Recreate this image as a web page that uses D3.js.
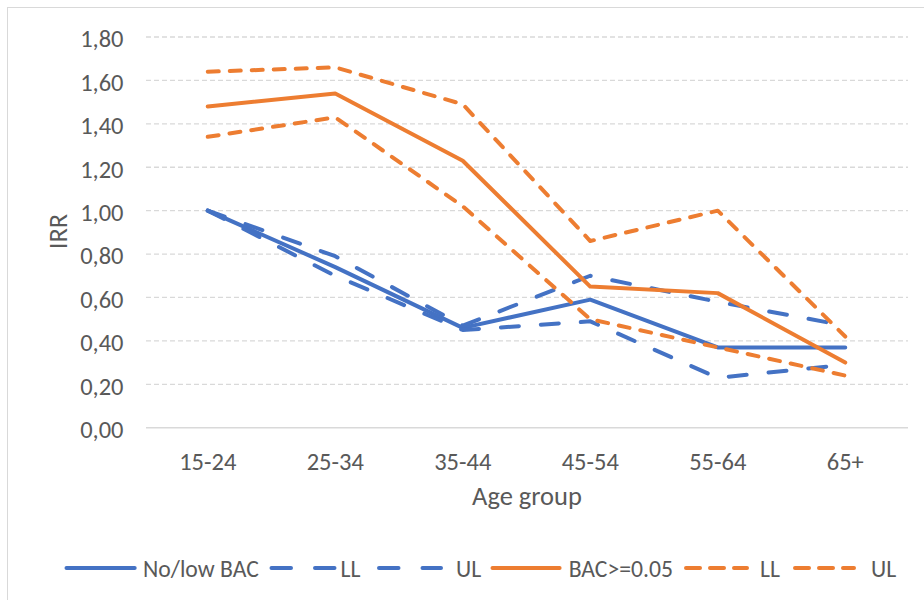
<!DOCTYPE html>
<html>
<head>
<meta charset="utf-8">
<script src="https://cdn.jsdelivr.net/npm/d3@7"></script>
<style>
  html, body { margin: 0; padding: 0; background: #fff; }
  svg { display: block; }
  text { font-family: Carlito, Calibri, "Liberation Sans Narrow", "Open Sans", sans-serif; fill: #595959; }
</style>
</head>
<body>
<svg id="chart" width="924" height="600"></svg>
<script>
// ---- data ----
const categories = ["15-24", "25-34", "35-44", "45-54", "55-64", "65+"];
const noLowBAC   = [1.00, 0.74, 0.46, 0.59, 0.37, 0.37];
const noLowLL    = [1.00, 0.70, 0.45, 0.49, 0.23, 0.29];
const noLowUL    = [1.00, 0.79, 0.47, 0.70, 0.58, 0.47];
const bacHigh    = [1.48, 1.54, 1.23, 0.65, 0.62, 0.30];
const bacHighLL  = [1.34, 1.43, 1.02, 0.50, 0.37, 0.24];
const bacHighUL  = [1.64, 1.66, 1.49, 0.86, 1.00, 0.42];
const yTicks     = [0, 0.2, 0.4, 0.6, 0.8, 1.0, 1.2, 1.4, 1.6, 1.8];
const legendLabels = ["No/low BAC", "LL", "UL", "BAC>=0.05", "LL", "UL"];

const BLUE = "#4472C4", ORANGE = "#ED7D31";
const series = [
  { values: noLowBAC,  color: BLUE,   dash: null },
  { values: noLowLL,   color: BLUE,   dash: "18,22" },
  { values: noLowUL,   color: BLUE,   dash: "18,22" },
  { values: bacHigh,   color: ORANGE, dash: null },
  { values: bacHighLL, color: ORANGE, dash: "11,11" },
  { values: bacHighUL, color: ORANGE, dash: "11,11" }
];

const svg = d3.select("#chart");
const pLeft = 144, pRight = 909, pTop = 37, pBottom = 427.7;
const FONT = 'Carlito, Calibri, "Liberation Sans Narrow", "Open Sans", sans-serif';
const TICK_FS = 24.5, LEGEND_FS = 23.7, TITLE_FS = 26.5;

// chart border
svg.append("rect").attr("x", 7.5).attr("y", 7.5).attr("width", 930).attr("height", 620)
  .attr("fill", "none").attr("stroke", "#D9D9D9").attr("stroke-width", 1);

const x = d3.scaleBand().domain(categories).range([pLeft, pRight]).padding(0);
const y = d3.scaleLinear().domain([0, 1.8]).range([pBottom, pTop]);

// gridlines
svg.append("g").selectAll("line").data(yTicks.filter(d => d > 0)).join("line")
  .attr("x1", pLeft + 2).attr("x2", pRight - 1)
  .attr("y1", d => y(d)).attr("y2", d => y(d))
  .attr("stroke", "#D9D9D9").attr("stroke-width", 1.3).attr("stroke-dasharray", "5,3");

// y axis labels
const yAxis = d3.axisLeft(y).tickValues(yTicks).tickSize(0).tickPadding(0)
  .tickFormat(d => d3.format(".2f")(d).replace(".", ","));
const yg = svg.append("g").attr("transform", `translate(123.5,2)`).call(yAxis);
yg.select(".domain").remove();
yg.selectAll("text").attr("font-size", TICK_FS).attr("fill", "#595959").style("font-family", FONT);

// x axis
const xAxis = d3.axisBottom(x).tickSize(0).tickPadding(0);
const xg = svg.append("g").attr("transform", `translate(0,${pBottom})`).call(xAxis);
xg.select(".domain").attr("stroke", "#D9D9D9").attr("stroke-width", 1.5)
  .attr("d", `M${pLeft + 2},0H${pRight - 1}`);
xg.selectAll("text").attr("font-size", TICK_FS).attr("fill", "#595959")
  .attr("y", 42.3).attr("dy", 0).style("font-family", FONT);

// axis titles
svg.append("text").attr("x", 527).attr("y", 505).attr("text-anchor", "middle")
  .attr("font-size", TITLE_FS).text("Age group");
svg.append("text").attr("transform", "translate(66.5,231.5) rotate(-90)").attr("text-anchor", "middle")
  .attr("font-size", TITLE_FS).text("IRR");

// lines
const line = d3.line().x((d, i) => x(categories[i]) + x.bandwidth() / 2).y(d => y(d));
svg.append("g").selectAll("path").data(series).join("path")
  .attr("d", d => line(d.values))
  .attr("fill", "none")
  .attr("stroke", d => d.color)
  .attr("stroke-width", 4)
  .attr("stroke-linecap", "round")
  .attr("stroke-linejoin", "round")
  .attr("stroke-dasharray", d => d.dash);

// legend
const legendY = 568;
const legendItems = [
  { x1: 66.5,  x2: 134.7, tx: 143,   label: legendLabels[0], s: series[0], ld: null },
  { x1: 271.5, x2: 334.5, tx: 340.6, label: legendLabels[1], s: series[1], ld: "19.5,24" },
  { x1: 379,   x2: 441,   tx: 456,   label: legendLabels[2], s: series[2], ld: "19.5,24" },
  { x1: 492.5, x2: 559.6, tx: 568.7, label: legendLabels[3], s: series[3], ld: null },
  { x1: 686,   x2: 747,   tx: 760,   label: legendLabels[4], s: series[4], ld: "14,10" },
  { x1: 795,   x2: 854,   tx: 871,   label: legendLabels[5], s: series[5], ld: "14,10" }
];
const lg = svg.append("g");
legendItems.forEach(it => {
  lg.append("line").attr("x1", it.x1).attr("x2", it.x2)
    .attr("y1", legendY).attr("y2", legendY)
    .attr("stroke", it.s.color).attr("stroke-width", 4)
    .attr("stroke-linecap", "round").attr("stroke-dasharray", it.ld);
  lg.append("text").attr("x", it.tx).attr("y", 576.5)
    .attr("font-size", LEGEND_FS).text(it.label);
});
</script>
</body>
</html>
